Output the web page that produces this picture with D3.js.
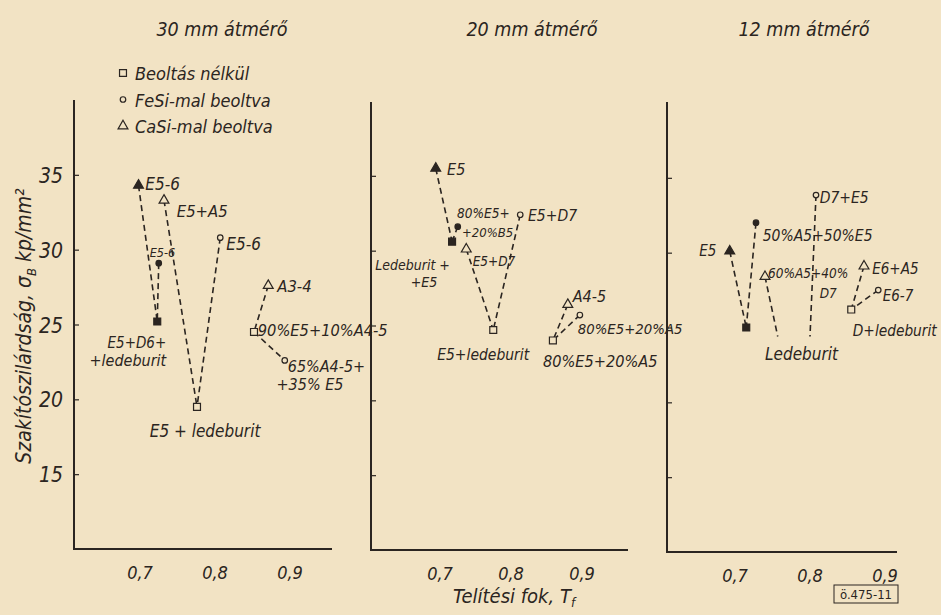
<!DOCTYPE html>
<html>
<head>
<meta charset="utf-8">
<script src="https://cdn.jsdelivr.net/npm/d3@7"></script>
<style>
  body { margin: 0; background: #f2e3c4; }
  svg text {
    font-family: "DejaVu Sans Condensed", "DejaVu Sans", sans-serif;
    font-stretch: condensed;
    font-style: oblique;
    fill: #2b2521;
  }
</style>
</head>
<body>
<div id="chart"></div>
<script>
var width = 941, height = 615;

var panelTitles = ["30 mm átmérő", "20 mm átmérő", "12 mm átmérő"];
var xTickValues = [0.7, 0.8, 0.9];
var yTickValues = [15, 20, 25, 30, 35];
var legendLabels = ["Beoltás nélkül", "FeSi-mal beoltva", "CaSi-mal beoltva"];
var legendShapes = ["square", "circle", "triangle"];

// points: [id, telitesi fok, szakitoszilardsag, shape, filled]
var points30 = [
  ["a", 0.698, 34.3, "triangle", true],
  ["b", 0.723, 25.2, "square", true],
  ["c", 0.725, 29.1, "circle", true],
  ["d", 0.732, 33.3, "triangle", false],
  ["e", 0.776, 19.5, "square", false],
  ["f", 0.807, 30.8, "circle", false],
  ["g", 0.871, 27.6, "triangle", false],
  ["h", 0.852, 24.5, "square", false],
  ["i", 0.893, 22.6, "circle", false]
];
var links30 = [["a", "b"], ["c", "b"], ["d", "e"], ["f", "e"], ["g", "h"], ["h", "i"]];
var labels30 = [
  ["E5-6", 0.707, 34.0, "start"],
  ["E5+A5", 0.749, 32.2, "start"],
  ["E5-6", 0.713, 29.5, "start"],
  ["E5-6", 0.815, 30.0, "start"],
  ["A3-4", 0.883, 27.2, "start"],
  ["90%E5+10%A4-5", 0.857, 24.2, "start"],
  ["65%A4-5+", 0.897, 21.8, "start"],
  ["+35% E5", 0.882, 20.6, "start"],
  ["E5+D6+", 0.735, 23.4, "end"],
  ["+ledeburit", 0.735, 22.2, "end"],
  ["E5 + ledeburit", 0.713, 17.5, "start"]
];

var points20 = [
  ["a", 0.694, 35.5, "triangle", true],
  ["b", 0.717, 30.6, "square", true],
  ["c", 0.725, 31.6, "circle", true],
  ["d", 0.737, 30.1, "triangle", false],
  ["e", 0.775, 24.7, "square", false],
  ["f", 0.813, 32.4, "circle", false],
  ["g", 0.880, 26.4, "triangle", false],
  ["h", 0.897, 25.7, "circle", false],
  ["i", 0.859, 24.0, "square", false]
];
var links20 = [["a", "b"], ["c", "b"], ["d", "e"], ["f", "e"], ["g", "i"], ["h", "i"]];
var labels20 = [
  ["E5", 0.710, 35.05, "start"],
  ["80%E5+", 0.724, 32.2, "start"],
  ["+20%B5", 0.731, 30.9, "start"],
  ["E5+D7", 0.824, 32.0, "start"],
  ["E5+D7", 0.746, 29.0, "start"],
  ["Ledeburit +", 0.714, 28.7, "end"],
  ["+E5", 0.696, 27.6, "end"],
  ["E5+ledeburit", 0.696, 22.7, "start"],
  ["A4-5", 0.887, 26.6, "start"],
  ["80%E5+20%A5", 0.894, 24.4, "start"],
  ["80%E5+20%A5", 0.845, 22.2, "start"]
];

var points12 = [
  ["a", 0.693, 30.1, "triangle", true],
  ["b", 0.715, 25.0, "square", true],
  ["c", 0.728, 32.0, "circle", true],
  ["d", 0.740, 28.4, "triangle", false],
  ["f", 0.808, 33.85, "circle", false],
  ["g", 0.872, 29.1, "triangle", false],
  ["h", 0.855, 26.2, "square", false],
  ["i", 0.891, 27.5, "circle", false],
  ["e1", 0.757, 24.4, "none", false],
  ["e2", 0.800, 24.4, "none", false]
];
var links12 = [["a", "b"], ["c", "b"], ["d", "e1"], ["f", "e2"], ["g", "h"], ["i", "h"]];
var labels12 = [
  ["E5", 0.675, 29.8, "end"],
  ["50%A5+50%E5", 0.737, 30.8, "start"],
  ["D7+E5", 0.813, 33.3, "start"],
  ["60%A5+40%", 0.744, 28.3, "start"],
  ["D7", 0.813, 27.0, "start"],
  ["E6+A5", 0.883, 28.6, "start"],
  ["E6-7", 0.897, 26.8, "start"],
  ["D+ledeburit", 0.857, 24.4, "start"],
  ["Ledeburit", 0.740, 22.8, "start"]
];

var ink = "#2b2521";

var panels = [
  { title: panelTitles[0], points: points30, links: links30, labels: labels30,
    x0: 74, x7: 140, x9: 290, xEnd: 332, yBase: 549, yTop: 100, titleX: 222,
    labelSizes: [17, 16.5, 12.5, 17, 16.5, 16.3, 16, 16, 15, 16, 17], tickLabels: true },
  { title: panelTitles[1], points: points20, links: links20, labels: labels20,
    x0: 371, x7: 440, x9: 582, xEnd: 628, yBase: 550, yTop: 102, titleX: 532,
    labelSizes: [16, 13.5, 13, 15.5, 13.5, 14, 14, 15.5, 16, 14.8, 16.2], tickLabels: false },
  { title: panelTitles[2], points: points12, links: links12, labels: labels12,
    x0: 667, x7: 735, x9: 885, xEnd: 897, yBase: 552, yTop: 102, titleX: 804,
    labelSizes: [15, 15.5, 15.5, 13.5, 13.5, 15, 15, 15.3, 17], tickLabels: false }
];

var svg = d3.select("#chart").append("svg")
  .attr("width", width)
  .attr("height", height);

svg.append("rect").attr("width", width).attr("height", height).attr("fill", "#f2e3c4");

var symbolType = { square: d3.symbolSquare, circle: d3.symbolCircle, triangle: d3.symbolTriangle };
var symbolSize = { square: 48, circle: 24, triangle: 42 };

function drawMarker(g, shape, filled, cx, cy) {
  if (shape == "none") return;
  g.append("path")
    .attr("d", d3.symbol().type(symbolType[shape]).size(symbolSize[shape])())
    .attr("transform", "translate(" + cx + "," + cy + ")")
    .attr("fill", filled ? ink : "#f2e3c4")
    .attr("stroke", ink)
    .attr("stroke-width", 1.2);
}

panels.forEach(function (p) {
  var x = d3.scaleLinear().domain([0.7, 0.9]).range([p.x7, p.x9]);
  var y = d3.scaleLinear().domain([10, 40]).range([p.yBase, p.yBase - 449]);
  var g = svg.append("g");

  // axes lines
  g.append("line").attr("x1", p.x0).attr("x2", p.x0).attr("y1", p.yTop).attr("y2", p.yBase)
    .attr("stroke", ink).attr("stroke-width", 2);
  g.append("line").attr("x1", p.x0 - 1).attr("x2", p.xEnd).attr("y1", p.yBase).attr("y2", p.yBase)
    .attr("stroke", ink).attr("stroke-width", 2.2);

  // y ticks (inside)
  var yAxis = d3.axisRight(y).tickValues(yTickValues).tickSize(5).tickFormat("");
  var ya = g.append("g").attr("transform", "translate(" + p.x0 + ",0)").call(yAxis);
  ya.select(".domain").remove();
  ya.selectAll(".tick line").attr("stroke", ink).attr("stroke-width", 1.2);

  if (p.tickLabels) {
    g.selectAll(".ylab").data(yTickValues).enter().append("text")
      .attr("x", p.x0 - 11)
      .attr("y", function (d) { return y(d) + 8; })
      .attr("text-anchor", "end")
      .style("font-size", "21px")
      .text(function (d) { return d; });
  }

  // x tick labels
  g.selectAll(".xlab").data(xTickValues).enter().append("text")
    .attr("x", function (d) { return x(d); })
    .attr("y", p.yBase + 30)
    .attr("text-anchor", "middle")
    .style("font-size", "18px")
    .text(function (d) { return String(d).replace(".", ","); });

  // title
  g.append("text")
    .attr("x", p.titleX).attr("y", 36)
    .attr("text-anchor", "middle")
    .style("font-size", "19.5px")
    .text(p.title);

  // dashed connections
  var byId = {};
  p.points.forEach(function (d) { byId[d[0]] = d; });
  g.selectAll(".link").data(p.links).enter().append("line")
    .attr("x1", function (d) { return x(byId[d[0]][1]); })
    .attr("y1", function (d) { return y(byId[d[0]][2]); })
    .attr("x2", function (d) { return x(byId[d[1]][1]); })
    .attr("y2", function (d) { return y(byId[d[1]][2]); })
    .attr("stroke", ink)
    .attr("stroke-width", 1.6)
    .attr("stroke-dasharray", "6,4");

  // markers
  p.points.forEach(function (d) {
    drawMarker(g, d[3], d[4], x(d[1]), y(d[2]));
  });

  // point labels
  g.selectAll(".plab").data(p.labels).enter().append("text")
    .attr("x", function (d) { return x(d[1]); })
    .attr("y", function (d) { return y(d[2]); })
    .attr("text-anchor", function (d) { return d[3]; })
    .style("font-size", function (d, i) { return p.labelSizes[i] + "px"; })
    .text(function (d) { return d[0]; });
});

// legend
var lg = svg.append("g");
legendLabels.forEach(function (t, i) {
  var ly = 73 + i * 26.5;
  drawMarker(lg, legendShapes[i], false, 123, ly);
  lg.append("text").attr("x", 135).attr("y", ly + 7).style("font-size", "18px").text(t);
});

// y axis title
var yt = svg.append("text")
  .attr("transform", "translate(31,326) rotate(-90)")
  .attr("text-anchor", "middle")
  .style("font-size", "21px");
yt.append("tspan").text("Szakítószilárdság, σ");
yt.append("tspan").attr("dy", 5).style("font-size", "13px").text("B");
yt.append("tspan").attr("dy", -5).text(" kp/mm²");

// x axis title
var xt = svg.append("text")
  .attr("x", 514).attr("y", 603)
  .attr("text-anchor", "middle")
  .style("font-size", "20px");
xt.append("tspan").text("Telítési fok, T");
xt.append("tspan").attr("dy", 4).style("font-size", "13px").text("f");

// figure number box
svg.append("rect").attr("x", 834).attr("y", 585).attr("width", 64).attr("height", 18)
  .attr("fill", "none").attr("stroke", ink).attr("stroke-width", 1);
svg.append("text").attr("x", 866).attr("y", 599).attr("text-anchor", "middle")
  .style("font-size", "13px").style("font-style", "normal").text("ö.475-11");
</script>
</body>
</html>
